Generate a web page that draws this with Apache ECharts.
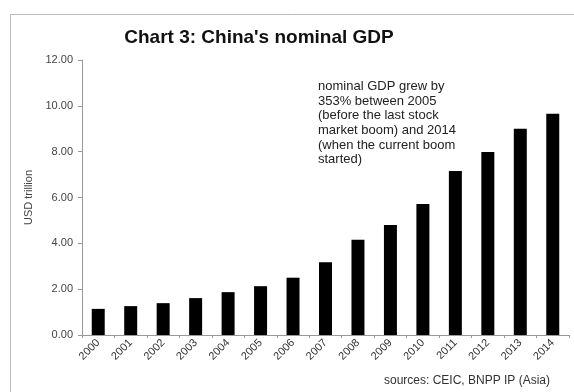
<!DOCTYPE html>
<html>
<head>
<meta charset="utf-8">
<script src="https://cdn.jsdelivr.net/npm/echarts@6/dist/echarts.min.js"></script>
<style>html,body{margin:0;padding:0;background:#fff;}#c{width:574px;height:392px;}</style>
</head>
<body>
<div id="c"></div>
<script>
var years = ['2000','2001','2002','2003','2004','2005','2006','2007','2008','2009','2010','2011','2012','2013','2014'];
var gdp = [1.14, 1.26, 1.39, 1.61, 1.87, 2.13, 2.50, 3.17, 4.16, 4.80, 5.72, 7.16, 7.99, 9.00, 9.65];
var yTicks = {min: 0, max: 12, interval: 2};
var titleText = "Chart 3: China's nominal GDP";
var noteLines = ['nominal GDP grew by', '353% between 2005', '(before the last stock', 'market boom) and 2014', '(when the current boom', 'started)'];
var sourceText = 'sources: CEIC, BNPP IP (Asia)';

var chart = echarts.init(document.getElementById('c'), null, {renderer: 'canvas'});
chart.setOption({
  animation: false,
  backgroundColor: '#fff',
  textStyle: {fontFamily: 'Liberation Sans, Arial, sans-serif'},
  title: {
    text: titleText,
    left: 254, top: 23, textAlign: 'center',
    textStyle: {fontSize: 19, fontWeight: 'bold', color: '#111', fontFamily: 'Liberation Sans, Arial, sans-serif'}
  },
  grid: {left: 82, right: 5, top: 60, bottom: 57, containLabel: false},
  xAxis: {
    type: 'category',
    data: years,
    axisLine: {lineStyle: {color: '#999'}},
    axisTick: {show: true, length: 3, alignWithLabel: false, lineStyle: {color: '#999'}},
    axisLabel: {rotate: 45, fontSize: 11, color: '#333', margin: 6, interval: 0}
  },
  yAxis: {
    type: 'value',
    min: yTicks.min, max: yTicks.max, interval: yTicks.interval,
    name: 'USD trillion',
    nameLocation: 'middle',
    nameGap: 45,
    nameTextStyle: {fontSize: 11, color: '#444'},
    axisLine: {show: true, lineStyle: {color: '#999'}},
    axisTick: {show: true, length: 4, lineStyle: {color: '#999'}},
    splitLine: {show: false},
    axisLabel: {fontSize: 11, color: '#444', margin: 9, formatter: function (v) { return v.toFixed(2); }}
  },
  series: [{
    type: 'bar',
    data: gdp,
    barWidth: '40%',
    itemStyle: {color: '#000'}
  }],
  graphic: [
    {type: 'rect', left: 8, top: 12, shape: {width: 640, height: 420}, style: {fill: 'none', stroke: '#bbb', lineWidth: 1}, silent: true, z: -1},
    {type: 'text', left: 318, top: 79, style: {text: noteLines.join('\n'), font: '13px Liberation Sans, Arial, sans-serif', fill: '#222', lineHeight: 14.7}},
    {type: 'text', right: 24, top: 375, style: {text: sourceText, font: '12px Liberation Sans, Arial, sans-serif', fill: '#333'}}
  ]
});
</script>
</body>
</html>
